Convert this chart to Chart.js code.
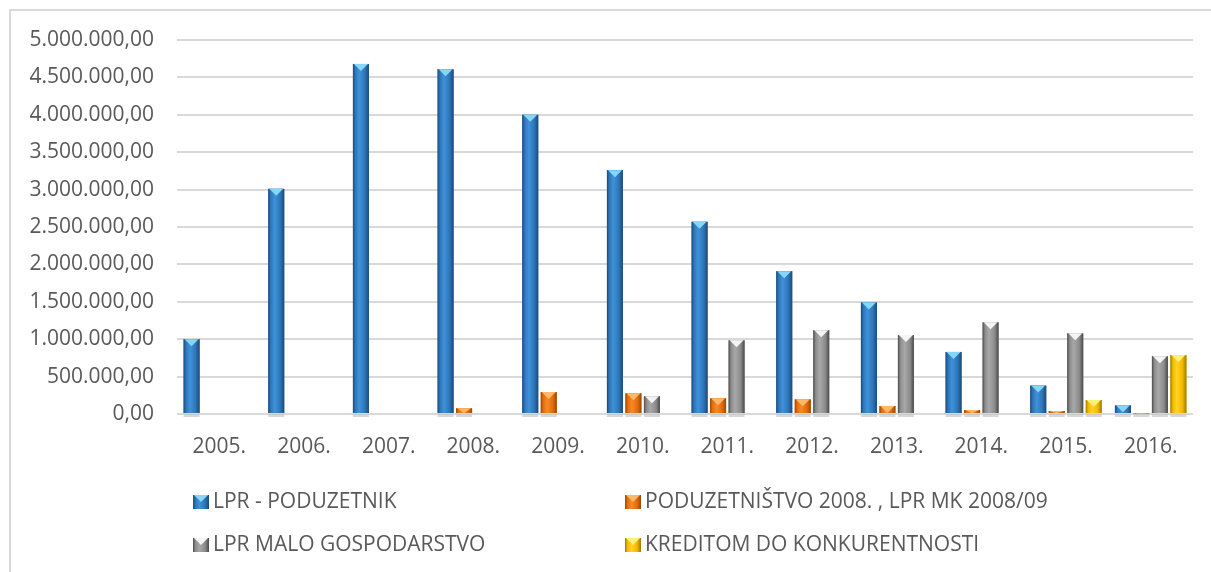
<!DOCTYPE html>
<html>
<head>
<meta charset="utf-8">
<script src="https://cdn.jsdelivr.net/npm/chart.js@4"></script>
<style>
  html, body { margin: 0; padding: 0; background: #fff; overflow: hidden; }
  #frame { position: absolute; left: 9px; top: 9px; width: 1230px; height: 600px; border: 2px solid #d9d9d9; box-sizing: border-box; }
  #wrap { position: absolute; left: 0; top: 0; width: 1211px; height: 572px; }
  .leg { position: absolute; font-family: "Open Sans", sans-serif; font-size: 21px; color: #595959; white-space: nowrap; line-height: 26px; }
  .leg i { position: relative; display: inline-block; width: 16px; height: 14px; margin-right: 4px; vertical-align: -1px; }
  .leg i span { position: absolute; left: 1px; top: 0; width: 0; height: 0; border-left: 7px solid transparent; border-right: 7px solid transparent; border-top: 7px solid #fff; }
</style>
</head>
<body>
<div id="frame"></div>
<div id="wrap"><canvas id="chart"></canvas></div>
<div id="legend"></div>
<script>
  // values
  const years = ['2005.', '2006.', '2007.', '2008.', '2009.', '2010.', '2011.', '2012.', '2013.', '2014.', '2015.', '2016.'];
  const poduzetnik = [1000000, 3010000, 4680000, 4610000, 4000000, 3260000, 2570000, 1910000, 1490000, 830000, 380000, 116000];
  const poduzetnistvo = [0, 0, 0, 76000, 294000, 277000, 210000, 196000, 107000, 53000, 40000, 8000];
  const maloGospodarstvo = [0, 0, 0, 0, 0, 237000, 985000, 1119000, 1056000, 1226000, 1079000, 771000];
  const kreditom = [0, 0, 0, 0, 0, 0, 0, 0, 0, 0, 187000, 789000];
  const seriesNames = ['LPR - PODUZETNIK', 'PODUZETNIŠTVO 2008. , LPR MK 2008/09', 'LPR MALO GOSPODARSTVO', 'KREDITOM DO KONKURENTNOSTI'];

  // base, light center, dark edge, top facet
  const shades = [
    ['#2E75B6', '#3E92DC', '#1B4A78', '#86D6F8'],
    ['#E46C0A', '#F58A2C', '#9A4706', '#FFB868'],
    ['#8C8C8C', '#A8A8A8', '#4A4A4A', '#F4F4F4'],
    ['#F2B800', '#FFD425', '#A07800', '#FFF07A']
  ];

  function fmt(v) {
    const s = Math.round(v).toString().replace(/\B(?=(\d{3})+(?!\d))/g, '.');
    return s + ',00';
  }

  // bevelled look drawn over each bar
  const bevel = {
    id: 'bevel',
    afterDatasetsDraw(chart) {
      const ctx = chart.ctx;
      chart.data.datasets.forEach((ds, i) => {
        const sh = shades[i];
        chart.getDatasetMeta(i).data.forEach((bar, j) => {
          if (!ds.data[j]) return;
          const w = bar.width, l = bar.x - w / 2, r = bar.x + w / 2;
          const top = bar.y, base = bar.base, h = base - top;
          ctx.save();
          // shadow under the bar
          ctx.fillStyle = 'rgba(190,190,190,0.6)';
          ctx.fillRect(l, base + 1, w, 3);
          const g = ctx.createLinearGradient(l, 0, r, 0);
          g.addColorStop(0, sh[2]);
          g.addColorStop(0.15, sh[0]);
          g.addColorStop(0.4, sh[1]);
          g.addColorStop(0.75, sh[0]);
          g.addColorStop(1, sh[2]);
          ctx.fillStyle = g;
          ctx.fillRect(l, top, w, h);
          const th = Math.min(7, h);
          ctx.fillStyle = sh[3];
          ctx.beginPath();
          ctx.moveTo(l + 1, top);
          ctx.lineTo(r - 1, top);
          ctx.lineTo(bar.x, top + th);
          ctx.closePath();
          ctx.fill();
          ctx.restore();
        });
      });
    }
  };

  const data = {
    labels: years,
    datasets: [
      { label: seriesNames[0], data: poduzetnik, backgroundColor: shades[0][0] },
      { label: seriesNames[1], data: poduzetnistvo, backgroundColor: shades[1][0] },
      { label: seriesNames[2], data: maloGospodarstvo, backgroundColor: shades[2][0] },
      { label: seriesNames[3], data: kreditom, backgroundColor: shades[3][0] }
    ]
  };

  const tickFont = { family: 'Open Sans', size: 21 };

  new Chart(document.getElementById('chart'), {
    type: 'bar',
    data: data,
    options: {
      responsive: true,
      maintainAspectRatio: false,
      animation: false,
      layout: { padding: { top: 40, right: 18, left: 0, bottom: 0 } },
      datasets: { bar: { categoryPercentage: 0.874, barPercentage: 0.865 } },
      plugins: { legend: { display: false }, tooltip: { enabled: false } },
      scales: {
        x: {
          grid: { display: false, drawTicks: false },
          border: { display: false },
          ticks: { color: '#595959', font: tickFont, padding: 20, maxRotation: 0 },
          afterFit(s) { s.height = 158; }
        },
        y: {
          min: 0,
          max: 5000000,
          grid: { color: '#d9d9d9', lineWidth: 2, drawTicks: false },
          border: { display: false },
          ticks: { stepSize: 500000, color: '#595959', font: tickFont, padding: 23, callback: v => fmt(v) },
          afterFit(s) { s.width = 177; }
        }
      }
    },
    plugins: [bevel]
  });

  // legend in the two-column layout of the original
  const legPos = [[193, 487], [625, 487], [193, 530], [625, 530]];
  const legend = document.getElementById('legend');
  seriesNames.forEach((name, i) => {
    const d = document.createElement('div');
    d.className = 'leg';
    d.style.left = legPos[i][0] + 'px';
    d.style.top = legPos[i][1] + 'px';
    const sh = shades[i];
    d.innerHTML = '<i style="background:linear-gradient(90deg,' + sh[2] + ' 0,' + sh[0] + ' 15%,' + sh[1] + ' 40%,' + sh[0] + ' 75%,' + sh[2] + ' 100%)">' +
      '<span style="border-top-color:' + sh[3] + '"></span></i>' + name;
    legend.appendChild(d);
  });
</script>
</body>
</html>
